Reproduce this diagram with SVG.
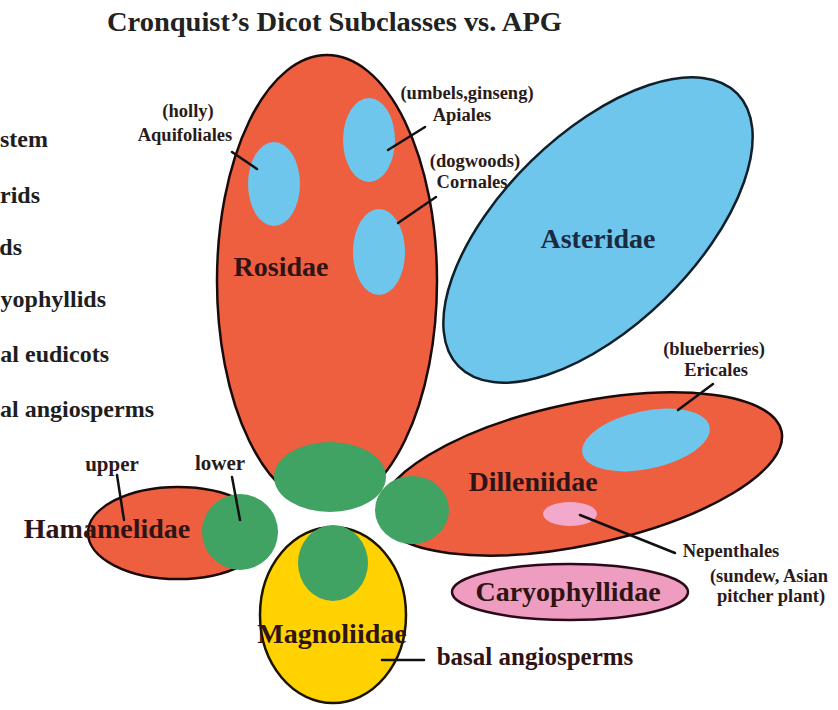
<svg xmlns="http://www.w3.org/2000/svg" width="838" height="710" viewBox="0 0 838 710">
<style>
  text { font-family: "Liberation Serif", "Times New Roman", serif; font-weight: bold; }
  .title { font-size: 28px; fill: #222; }
  .legend { font-size: 24px; fill: #1e1e1e; text-anchor: end; }
  .big { font-size: 28px; fill: #2e1414; text-anchor: middle; }
  .small { font-size: 18.5px; fill: #2a1a1a; text-anchor: middle; }
  .mid { font-size: 21px; fill: #2a1a1a; text-anchor: middle; }
  .red { fill: #EE5F40; stroke: #1a0a0a; stroke-width: 2.5; }
  .blue { fill: #6EC6EC; }
  .blueo { fill: #6EC6EC; stroke: #10202a; stroke-width: 2.5; }
  .green { fill: #40A263; }
  .yellow { fill: #FFD200; stroke: #1a1400; stroke-width: 2.5; }
  .pink { fill: #EE9DC1; stroke: #2a0a1a; stroke-width: 2.5; }
  .lpink { fill: #F2A9CB; }
  .lead { stroke: #111; stroke-width: 2.5; fill: none; stroke-linecap: round; }
</style>
<rect width="838" height="710" fill="#ffffff"/>

<text class="title" x="107" y="31" textLength="455" lengthAdjust="spacingAndGlyphs">Cronquist’s Dicot Subclasses vs. APG</text>

<g id="legend">
  <text class="legend" x="48" y="147">stem</text>
  <text class="legend" x="40" y="203">rids</text>
  <text class="legend" x="22" y="255">ds</text>
  <text class="legend" x="106" y="307">yophyllids</text>
  <text class="legend" x="109" y="362">al eudicots</text>
  <text class="legend" x="154" y="417">al angiosperms</text>
</g>

<g id="rosidae">
  <ellipse class="red" cx="327" cy="281" rx="110" ry="226"/>
  <ellipse class="blue" cx="274" cy="184" rx="26" ry="42"/>
  <ellipse class="blue" cx="369" cy="140" rx="26" ry="42"/>
  <ellipse class="blue" cx="379" cy="252" rx="26" ry="43"/>
  <ellipse class="green" cx="330" cy="477" rx="56" ry="35"/>
  <text class="big" x="281" y="276">Rosidae</text>
</g>

<g id="asteridae">
  <ellipse class="blueo" cx="598" cy="230" rx="195" ry="96" transform="rotate(-44.4 598 230)"/>
  <text class="big" x="598" y="248" style="fill:#1a2a40">Asteridae</text>
</g>

<g id="hamamelidae">
  <ellipse class="red" cx="178" cy="533" rx="90" ry="46"/>
  <ellipse class="green" cx="240" cy="532" rx="38" ry="38"/>
  <text class="big" x="107" y="538">Hamamelidae</text>
</g>

<g id="dilleniidae">
  <ellipse class="red" cx="581" cy="474" rx="205" ry="71" transform="rotate(-12 581 474)"/>
  <ellipse class="blue" cx="646" cy="440" rx="65" ry="29" transform="rotate(-12 646 440)"/>
  <ellipse class="lpink" cx="570" cy="514" rx="27" ry="12"/>
  <ellipse class="green" cx="412" cy="510" rx="37" ry="34"/>
  <text class="big" x="533" y="491">Dilleniidae</text>
</g>

<g id="magnoliidae">
  <ellipse class="yellow" cx="333" cy="615" rx="73" ry="88"/>
  <ellipse class="green" cx="333" cy="563" rx="35" ry="38"/>
  <text class="big" x="332" y="643">Magnoliidae</text>
</g>

<g id="caryophyllidae">
  <ellipse class="pink" cx="570" cy="592" rx="118" ry="28"/>
  <text class="big" x="568" y="601">Caryophyllidae</text>
</g>

<g id="connectors">
  <line class="lead" x1="232" y1="152" x2="257" y2="169"/>
  <line class="lead" x1="388" y1="150" x2="425" y2="127"/>
  <line class="lead" x1="398" y1="223" x2="436" y2="197"/>
  <line class="lead" x1="117" y1="475" x2="124" y2="520"/>
  <line class="lead" x1="232" y1="477" x2="240" y2="520"/>
  <line class="lead" x1="678" y1="410" x2="713" y2="384"/>
  <line class="lead" x1="580" y1="515" x2="675" y2="553"/>
  <line class="lead" x1="382" y1="660" x2="424" y2="660"/>
</g>

<g id="labels">
  <text class="small" x="188" y="117">(holly)</text>
  <text class="small" x="185" y="141">Aquifoliales</text>
  <text class="small" x="467" y="99">(umbels,ginseng)</text>
  <text class="small" x="462" y="121">Apiales</text>
  <text class="small" x="475" y="167">(dogwoods)</text>
  <text class="small" x="472" y="188">Cornales</text>
  <text class="small" x="714" y="355">(blueberries)</text>
  <text class="small" x="716" y="376">Ericales</text>
  <text class="small" x="731" y="557">Nepenthales</text>
  <text class="small" x="769" y="582">(sundew, Asian</text>
  <text class="small" x="771" y="602">pitcher plant)</text>
  <text class="mid" x="112" y="471">upper</text>
  <text class="mid" x="220" y="470">lower</text>
  <text class="big" x="535" y="665" style="font-size:25px">basal angiosperms</text>
</g>
</svg>
